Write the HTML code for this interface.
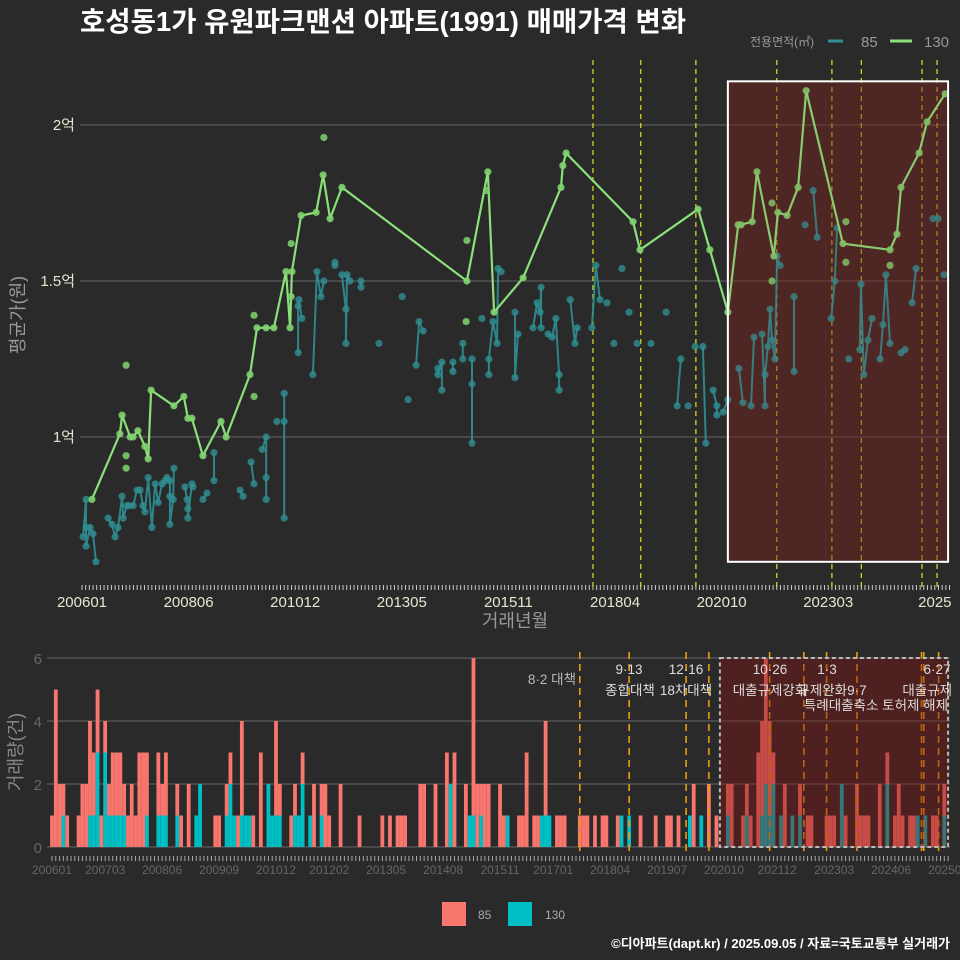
<!DOCTYPE html>
<html><head><meta charset="utf-8"><style>
html,body{margin:0;padding:0;background:#2a2a2a;}
svg{display:block;font-family:"Liberation Sans","Noto Sans CJK KR",sans-serif;}
</style></head><body>
<svg id="chart" width="960" height="960" viewBox="0 0 960 960" xmlns="http://www.w3.org/2000/svg">
<rect x="0" y="0" width="960" height="960" fill="#2a2a2a"/>
<text x="80" y="31" font-size="27.5" font-weight="bold" fill="#ffffff">호성동1가 유원파크맨션 아파트(1991) 매매가격 변화</text>
<g>
<text x="750" y="46" font-size="12" fill="#999">전용면적(㎡)</text>
<line x1="828" y1="41" x2="843" y2="41" stroke="#2f8f92" stroke-width="3"/>
<text x="861" y="47" font-size="15" fill="#999">85</text>
<line x1="890" y1="41" x2="912" y2="41" stroke="#8be07a" stroke-width="3"/>
<text x="924" y="47" font-size="15" fill="#999">130</text>
</g>
<g id="topG"></g>
<g id="botG"></g>
<text x="515" y="627" font-size="18" fill="#999" text-anchor="middle">거래년월</text>
<text transform="translate(24,315) rotate(-90)" font-size="18" fill="#999" text-anchor="middle">평균가(원)</text>
<text transform="translate(22,752) rotate(-90)" font-size="18" fill="#888" text-anchor="middle">거래량(건)</text>
<g>
<rect x="442" y="902" width="24" height="24" fill="#f8766d"/>
<text x="478" y="919" font-size="12" fill="#aaa">85</text>
<rect x="508" y="902" width="24" height="24" fill="#00bfc4"/>
<text x="545" y="919" font-size="12" fill="#aaa">130</text>
</g>
<text x="950" y="948" font-size="13" font-weight="bold" fill="#fff" text-anchor="end">©디아파트(dapt.kr) / 2025.09.05 / 자료=국토교통부 실거래가</text>
</svg>
<script>
const months85 = [0.3,1.1,1.1,1.1,2.2,3.0,3.8,7.1,8.2,9.0,9.8,10.9,11.2,12.2,12.8,13.9,15.0,15.8,16.6,17.1,18.0,19.0,19.9,20.7,21.8,22.6,23.1,23.9,23.9,23.9,24.8,25.0,28.0,28.6,28.8,28.8,29.9,30.2,32.9,34.0,35.9,35.9,43.0,43.8,46.0,46.8,49.0,50.1,50.1,50.1,53.0,55.0,55.0,55.0,58.8,58.8,59.0,59.8,62.8,63.9,65.0,65.8,68.8,68.8,70.7,71.8,71.8,72.1,72.9,75.9,75.9,80.8,87.1,88.7,90.9,91.7,92.8,96.8,96.8,97.9,97.9,100.9,100.9,103.6,103.6,106.1,106.1,106.1,108.8,110.7,110.7,111.8,112.9,113.2,114.0,117.8,117.8,118.6,122.7,123.8,124.6,124.9,124.9,126.8,127.9,128.9,129.8,129.8,132.8,134.1,134.7,138.7,139.8,140.9,142.8,144.7,146.9,148.8,151.0,154.8,158.9,161.9,162.9,164.9,166.8,168.9,169.7,171.7,172.7,172.7,174.4,175.7,178.7,179.8,182.0,182.8,185.0,185.8,185.8,186.6,187.2,187.7,188.5,189.1,189.9,193.7,193.7,196.7,198.9,200.0,203.8,204.8,205.4,208.6,211.6,211.9,212.7,213.8,214.9,217.1,217.9,218.7,219.8,222.8,223.9,225.8,226.9,231.5,232.9,234.5];
const price85 = [0.68,0.80,0.71,0.65,0.71,0.69,0.60,0.74,0.72,0.68,0.71,0.81,0.74,0.78,0.78,0.78,0.83,0.83,0.78,0.76,0.87,0.71,0.85,0.79,0.85,0.86,0.87,0.86,0.81,0.72,0.80,0.90,0.84,0.80,0.77,0.74,0.85,0.84,0.80,0.82,0.86,0.95,0.83,0.81,0.92,0.85,0.96,1.00,0.80,0.87,1.05,1.05,1.14,0.74,1.27,1.42,1.44,1.38,1.20,1.53,1.45,1.50,1.56,1.55,1.52,1.41,1.30,1.52,1.50,1.50,1.48,1.30,1.45,1.12,1.23,1.37,1.34,1.22,1.20,1.24,1.15,1.24,1.21,1.30,1.25,1.25,1.17,0.98,1.38,1.20,1.25,1.37,1.30,1.54,1.53,1.40,1.19,1.33,1.35,1.43,1.40,1.48,1.35,1.33,1.32,1.38,1.20,1.15,1.44,1.30,1.35,1.35,1.55,1.44,1.43,1.30,1.54,1.40,1.30,1.30,1.40,1.10,1.25,1.10,1.29,1.29,0.98,1.15,1.10,1.07,1.08,1.12,1.22,1.11,1.10,1.32,1.33,1.10,1.20,1.29,1.41,1.31,1.25,1.58,1.55,1.45,1.21,1.68,1.79,1.64,1.38,1.50,1.67,1.25,1.28,1.49,1.20,1.31,1.38,1.25,1.36,1.52,1.30,1.27,1.28,1.43,1.54,1.70,1.70,1.52];
const lineMonths130 = [2.7,10.3,10.9,13.1,13.9,15.2,17.1,18.0,18.8,25.0,27.7,28.8,29.9,32.9,37.8,39.2,45.7,47.6,50.1,52.2,55.5,56.6,57.1,59.6,63.7,65.6,67.5,70.7,104.7,110.4,112.1,120.0,130.3,130.8,131.7,149.9,151.8,167.6,170.8,175.7,178.5,179.3,182.3,183.6,188.2,189.3,191.8,194.8,197.0,207.0,219.8,221.7,222.8,227.7,229.9,234.8];
const linePrice130 = [0.80,1.01,1.07,1.00,1.00,1.02,0.97,0.93,1.15,1.10,1.13,1.06,1.06,0.94,1.05,1.00,1.20,1.35,1.35,1.35,1.53,1.35,1.53,1.71,1.72,1.84,1.70,1.80,1.50,1.85,1.40,1.51,1.80,1.87,1.91,1.69,1.60,1.73,1.60,1.40,1.68,1.68,1.69,1.85,1.58,1.72,1.71,1.80,2.11,1.62,1.60,1.65,1.80,1.91,2.01,2.10];
const extraMonths130 = [12.0,12.0,12.0,46.8,46.8,56.9,56.9,65.8,104.7,104.5,110.0,187.7,187.7,207.8,207.8,219.8];
const extraPrice130 = [1.23,0.94,0.90,1.39,1.13,1.62,1.45,1.96,1.63,1.37,1.79,1.75,1.50,1.69,1.56,1.55];
const topEvents = [139,152,167,189,204,212,228.5,232.6];
const botEvents = [139,152,167,173,189,198,204,212,229,229.6,233.5];
const topTickLabels = ["200601","200806","201012","201305","201511","201804","202010","202303","2025"];
const botTickLabels = ["200601","200703","200806","200909","201012","201202","201305","201408","201511","201701","201804","201907","202010","202112","202303","202406","202509"];
const priceTicks = [1,1.5,2];
const priceTickLabels = ["1억","1.5억","2억"];
const volTicks = [0,2,4,6];
const volMonth = [0,1,2,3,4,7,8,9,10,11,12,13,14,15,16,17,18,19,20,21,22,23,24,25,28,29,30,33,34,36,38,39,43,44,46,47,48,49,50,51,52,53,55,57,58,59,60,63,64,65,66,68,69,71,72,73,76,81,87,89,91,92,93,97,98,101,104,105,106,109,110,111,112,113,114,115,118,119,120,123,124,125,127,128,129,130,131,133,134,135,139,140,141,143,145,146,149,150,152,155,159,162,163,165,168,169,171,173,175,178,179,182,183,184,186,187,188,189,190,192,193,195,197,199,200,204,205,206,208,209,212,213,214,215,218,220,222,223,224,226,227,228,230,232,233,235];
const vol85 = [1,5,2,1,1,1,2,2,3,2,2,1,1,1,2,2,2,1,1,2,1,3,3,2,2,1,2,1,1,2,0,0,1,1,1,1,0,1,3,0,0,1,3,0,0,3,1,1,1,0,1,0,2,1,2,1,2,1,1,1,1,1,1,2,2,2,3,0,3,2,0,5,2,1,2,2,2,1,0,1,1,3,1,1,0,3,0,1,1,1,1,1,1,1,1,1,1,0,0,1,1,1,1,1,0,2,0,2,1,1,2,1,1,1,3,3,4,3,1,0,2,0,1,1,1,1,1,1,0,1,2,1,1,1,2,1,1,2,1,1,1,0,0,1,1,1];
const vol130 = [0,0,0,1,0,0,0,0,1,1,3,0,3,1,1,1,1,1,0,0,0,0,0,1,1,1,1,1,0,0,1,2,0,0,1,2,1,0,1,1,1,0,0,2,1,1,1,0,1,1,2,1,0,1,0,0,0,0,0,0,0,0,0,0,0,0,0,2,0,0,1,1,0,1,0,0,0,0,1,0,0,0,0,0,1,1,1,0,0,0,0,0,0,0,0,0,0,1,1,0,0,0,0,0,1,0,1,0,0,1,0,0,1,0,0,1,2,1,2,1,0,1,1,0,0,0,0,0,2,0,0,0,0,0,0,2,0,0,0,0,0,1,1,0,0,1];

const NS = "http://www.w3.org/2000/svg";
const topG = document.getElementById('topG');
const botG = document.getElementById('botG');
function mk(tag, attrs, parent){ const e = document.createElementNS(NS, tag); for (const k in attrs) e.setAttribute(k, attrs[k]); parent.appendChild(e); return e; }
const xT = m => 82 + m * 3.676;
const yT = p => 437 - (p - 1) * 312;
const xB = m => 52 + m * 3.797;
const yB = c => 847 - c * 31.5;
const labelMonth = s => (parseInt(s.slice(0, 4)) - 2006) * 12 + parseInt(s.slice(4, 6)) - 1;

priceTicks.forEach((t, i) => {
  const g = mk('line', {x1: 80, x2: 950, y1: yT(t), y2: yT(t), stroke: '#666', 'stroke-width': 1}, topG);
  
  
  const tx = mk('text', {x: 75, y: yT(t) + 5, 'font-size': 15, fill: '#e6e6d0', 'text-anchor': 'end'}, topG);
  tx.textContent = priceTickLabels[i];
  
  
});
for (let m = 0; m <= 236; m++) {
  const t = mk('line', {x1: xT(m), x2: xT(m), y1: 585, y2: 590, stroke: '#ccc', 'stroke-width': 1}, topG);
  
  
}
topTickLabels.forEach((l, i) => {
  const tx = mk('text', {x: xT(i * 29), y: 607, 'font-size': 15, fill: '#e6e6d0', 'text-anchor': 'middle'}, topG);
  tx.textContent = l;
  
  
});
topEvents.forEach(m => {
  const l = mk('line', {x1: xT(m), x2: xT(m), y1: 60, y2: 588, stroke: '#e6e020', 'stroke-width': 1.2, 'stroke-dasharray': '5,4'}, topG);
  
  
});
const hlFill = mk('rect', {x: xT(175.7), y: yT(2.14), width: xT(235.6) - xT(175.7), height: yT(0.60) - yT(2.14), fill: 'rgba(115,25,25,0.38)'}, topG);


let d = '';
for (let i = 0; i < months85.length; i++) {
  const cmd = (i > 0 && months85[i] - months85[i-1] <= 1.3) ? 'L' : 'M';
  d += cmd + xT(months85[i]).toFixed(1) + ',' + yT(price85[i]).toFixed(1);
}
const l85 = mk('path', {d: d, fill: 'none', stroke: '#2f8f92', 'stroke-width': 2, 'stroke-opacity': 0.9}, topG);


months85.forEach((m, i) => {
  const c = mk('circle', {cx: xT(m), cy: yT(price85[i]), r: 3.6, fill: '#2f8f92', 'fill-opacity': 0.8}, topG);
  
  
});
let d2 = '';
lineMonths130.forEach((m, i) => { d2 += (i ? 'L' : 'M') + xT(m).toFixed(1) + ',' + yT(linePrice130[i]).toFixed(1); });
const l130 = mk('path', {d: d2, fill: 'none', stroke: '#8be07a', 'stroke-width': 2.2}, topG);


lineMonths130.forEach((m, i) => {
  const c = mk('circle', {cx: xT(m), cy: yT(linePrice130[i]), r: 3.6, fill: '#7fd36e', 'fill-opacity': 0.9}, topG);
  
  
});
extraMonths130.forEach((m, i) => {
  const c = mk('circle', {cx: xT(m), cy: yT(extraPrice130[i]), r: 3.6, fill: '#7fd36e', 'fill-opacity': 0.85}, topG);
  
  
});
const hl = mk('rect', {x: xT(175.7), y: yT(2.14), width: xT(235.6) - xT(175.7), height: yT(0.60) - yT(2.14), fill: 'rgba(140,60,40,0.12)', stroke: '#fff', 'stroke-width': 2}, topG);



volTicks.forEach(t => {
  const g = mk('line', {x1: 47, x2: 950, y1: yB(t), y2: yB(t), stroke: '#666', 'stroke-width': 1}, botG);
  
  
  const tx = mk('text', {x: 42, y: yB(t) + 6, 'font-size': 15, fill: '#666', 'text-anchor': 'end'}, botG);
  tx.textContent = String(t);
  
  
});
const bw = 3.797;
volMonth.forEach((m, i) => {
  const x = xB(m) - bw / 2;
  if (vol130[i] > 0) {
    const r = mk('rect', {x: x, y: yB(vol130[i]), width: bw, height: yB(0) - yB(vol130[i]), fill: '#00bfc4'}, botG);
    
    
  }
  if (vol85[i] > 0) {
    const r = mk('rect', {x: x, y: yB(vol130[i] + vol85[i]), width: bw, height: yB(vol130[i]) - yB(vol130[i] + vol85[i]), fill: '#f8766d'}, botG);
    
    
  }
});
for (let m = 0; m <= 236; m++) {
  const t = mk('line', {x1: xB(m), x2: xB(m), y1: 856, y2: 861, stroke: '#aaa', 'stroke-width': 1}, botG);
  
  
}
botTickLabels.forEach(l => {
  const tx = mk('text', {x: xB(labelMonth(l)), y: 874, 'font-size': 12, fill: '#666', 'text-anchor': 'middle'}, botG);
  tx.textContent = l;
  
  
});
botEvents.forEach(m => {
  const l = mk('line', {x1: xB(m), x2: xB(m), y1: 652, y2: 856, stroke: '#e6a010', 'stroke-width': 1.6, 'stroke-dasharray': '7,5'}, botG);
  
  
});
const hb = mk('rect', {x: xB(175.9), y: yB(6), width: xB(236) - xB(175.9), height: yB(0) - yB(6), fill: 'rgba(130,20,20,0.42)', stroke: '#bbb', 'stroke-width': 2, 'stroke-dasharray': '4,3'}, botG);


const notes = [
  [576, 684, '8·2 대책', 'end', '#bbb'], [629, 674, '9·13', 'middle', '#ddd'], [630, 695, '종합대책', 'middle', '#ddd'],
  [686, 674, '12·16', 'middle', '#ddd'], [686, 695, '18차대책', 'middle', '#ddd'],
  [770, 674, '10·26', 'middle', '#ddd'], [770, 695, '대출규제강화', 'middle', '#ddd'],
  [827, 674, '1·3', 'middle', '#ddd'], [832, 695, '규제완화9·7', 'middle', '#ddd'],
  [948, 710, '특례대출축소 토허제 해제', 'end', '#ddd'], [937, 674, '6·27', 'middle', '#ddd'], [952, 695, '대출규제', 'end', '#ddd']
];
notes.forEach(n => {
  const tx = mk('text', {x: n[0], y: n[1], 'font-size': 13.5, fill: n[4], 'text-anchor': n[3]}, botG);
  tx.textContent = n[2];
  
  
});
</script>
</body></html>
